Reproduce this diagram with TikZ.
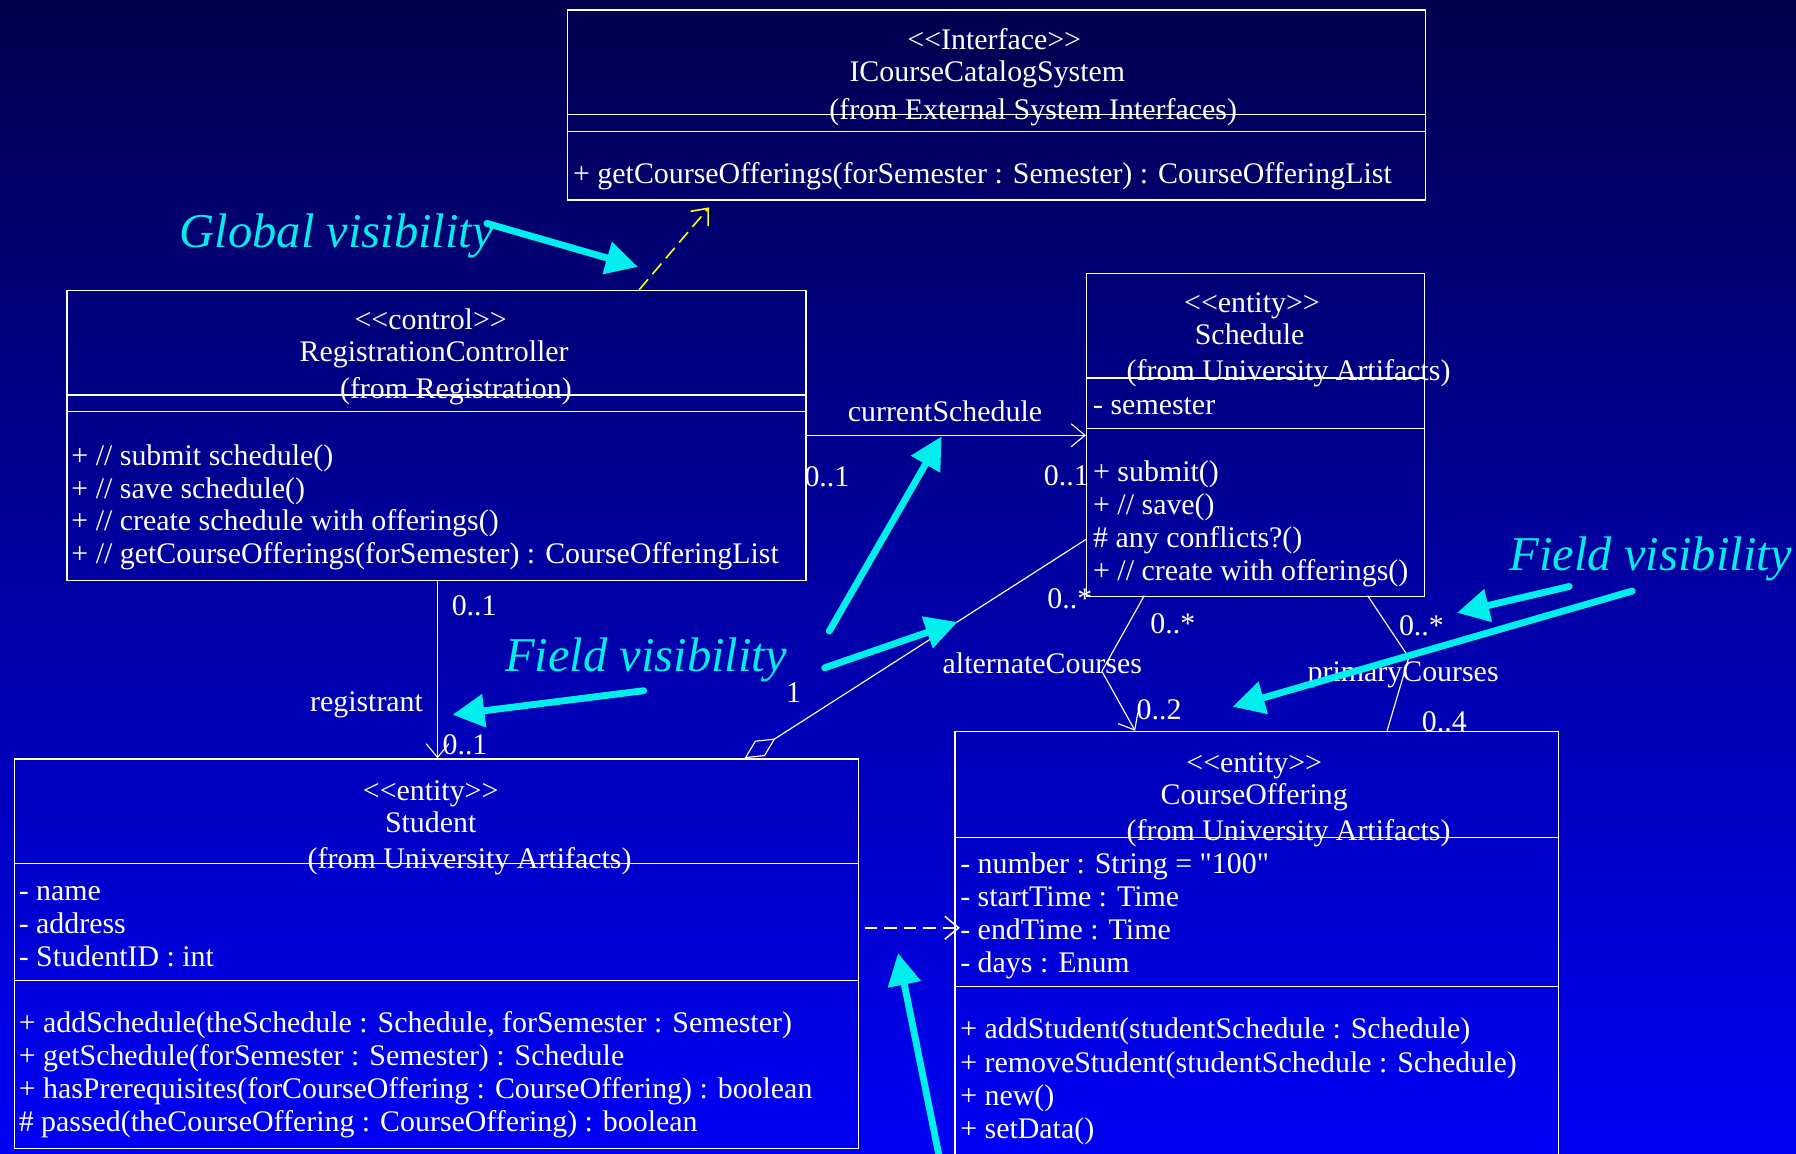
\documentclass[tikz,border=0pt]{standalone}
\usepackage{fontspec}
\setmainfont{Liberation Serif}[Ligatures=TeXOff]
\usetikzlibrary{arrows.meta}
\definecolor{bgtop}{RGB}{0,0,78}
\definecolor{bgbot}{RGB}{0,0,245}
\definecolor{notecyan}{RGB}{0,238,238}
\definecolor{depyellow}{RGB}{255,255,0}

\begin{document}
\begin{tikzpicture}[x=0.5pt,y=-0.5pt,
  umlbox/.style={draw=white, line width=0.6pt, inner sep=0pt, anchor=north west},
  sep/.style={draw=white, line width=0.6pt},
  txt/.style={text=white, font=\fontsize{13.05}{15}\selectfont, inner sep=0pt, anchor=base, yshift=-1pt},
  ltxt/.style={txt, anchor=base west},
  rtxt/.style={txt, anchor=base east},
  assoc/.style={draw=white, line width=0.5pt},
  openhead/.style={-{Straight Barb[length=6pt,width=10pt]}},
  notetxt/.style={text=notecyan, font=\fontsize{21.2}{24}\selectfont\itshape, inner sep=0pt, anchor=base},
  pointer/.style={draw=notecyan, line width=3pt, line cap=round,
    -{Triangle[length=14pt,width=14pt,fill=notecyan]}},
]
% background
\useasboundingbox (0,0) rectangle (1568,1007);
\shade[top color=bgtop, bottom color=bgbot] (0,0) rectangle (1568,1007);
\clip (0,0) rectangle (1568,1007);

% ---------- ICourseCatalogSystem ----------
\node[umlbox, minimum width=374.5pt, minimum height=83pt] (iface) at (495,8) {};
\draw[sep] (495,100) -- (1244,100);
\draw[sep] (495,115) -- (1244,115);
\node[txt] (ifSt) at (868,41) {<<Interface>>};
\node[txt] (ifNm) at (862,69) {ICourseCatalogSystem};
\node[txt] (ifPk) at (902,102) {(from External System Interfaces)};
\node[ltxt] (ifM1) at (500,158) {+ getCourseOfferings(forSemester : Semester) : CourseOfferingList};

% ---------- RegistrationController ----------
\node[umlbox, minimum width=322.5pt, minimum height=126.5pt] (rc) at (58,253) {};
\draw[sep] (58,345) -- (703,345);
\draw[sep] (58,359) -- (703,359);
\node[txt] (rcSt) at (376,286) {<<control>>};
\node[txt] (rcNm) at (379,314) {RegistrationController};
\node[txt] (rcPk) at (398,346) {(from Registration)};
\node[ltxt] (rcM1) at (62,404) {+ // submit schedule()};
\node[ltxt] (rcM2) at (62,433) {+ // save schedule()};
\node[ltxt] (rcM3) at (62,461) {+ // create schedule with offerings()};
\node[ltxt] (rcM4) at (62,490) {+ // getCourseOfferings(forSemester) : CourseOfferingList};

% ---------- Schedule ----------
\node[umlbox, minimum width=147.5pt, minimum height=141pt] (sch) at (948,238) {};
\draw[sep] (948,330) -- (1243,330);
\draw[sep] (948,374) -- (1243,374);
\node[txt] (schSt) at (1093,271) {<<entity>>};
\node[txt] (schNm) at (1091,299) {Schedule};
\node[txt] (schPk) at (1125,330) {(from University Artifacts)};
\node[ltxt] (schA1) at (954,360) {- semester};
\node[ltxt] (schM1) at (954,418) {+ submit()};
\node[ltxt] (schM2) at (954,447) {+ // save()};
\node[ltxt] (schM3) at (954,476) {\# any conflicts?()};
\node[ltxt] (schM4) at (954,505) {+ // create with offerings()};

% ---------- Student ----------
\node[umlbox, minimum width=368.5pt, minimum height=170pt] (stu) at (12,662) {};
\draw[sep] (12,754) -- (749,754);
\draw[sep] (12,856) -- (749,856);
\node[txt] (stuSt) at (376,697) {<<entity>>};
\node[txt] (stuNm) at (376,725) {Student};
\node[txt] (stuPk) at (410,756) {(from University Artifacts)};
\node[ltxt] (stuA1) at (16,784) {- name};
\node[ltxt] (stuA2) at (16,813) {- address};
\node[ltxt] (stuA3) at (16,842) {- StudentID : int};
\node[ltxt] (stuM1) at (16,899) {+ addSchedule(theSchedule : Schedule, forSemester : Semester)};
\node[ltxt] (stuM2) at (16,928) {+ getSchedule(forSemester : Semester) : Schedule};
\node[ltxt] (stuM3) at (16,957) {+ hasPrerequisites(forCourseOffering : CourseOffering) : boolean};
\node[ltxt] (stuM4) at (16,986) {\# passed(theCourseOffering : CourseOffering) : boolean};

% ---------- CourseOffering ----------
\node[umlbox, minimum width=263.5pt, minimum height=190pt] (co) at (833,638) {};
\draw[sep] (833,731) -- (1360,731);
\draw[sep] (833,861) -- (1360,861);
\node[txt] (coSt) at (1095,672) {<<entity>>};
\node[txt] (coNm) at (1095,700) {CourseOffering};
\node[txt] (coPk) at (1125,732) {(from University Artifacts)};
\node[ltxt] (coA1) at (838,761) {- number : String = "100"};
\node[ltxt] (coA2) at (838,789) {- startTime : Time};
\node[ltxt] (coA3) at (838,818) {- endTime : Time};
\node[ltxt] (coA4) at (838,847) {- days : Enum};
\node[ltxt] (coM1) at (838,905) {+ addStudent(studentSchedule : Schedule)};
\node[ltxt] (coM2) at (838,934) {+ removeStudent(studentSchedule : Schedule)};
\node[ltxt] (coM3) at (838,963) {+ new()};
\node[ltxt] (coM4) at (838,992) {+ setData()};

% ---------- connector end points ----------
\coordinate (rcDep) at (558,253);
\coordinate (ifDep) at (619,181);
\coordinate (rcCur) at (703,380);
\coordinate (schCur) at (948,380);
\coordinate (rcReg) at (382,506);
\coordinate (stuReg) at (382,662);
\coordinate (stuAgg) at (650,662);
\coordinate (schAgg) at (948,471);
\coordinate (schAlt) at (999,520);
\coordinate (altBend) at (962,586);
\coordinate (coAlt) at (991,638);
\coordinate (schPri) at (1194,520);
\coordinate (priBend) at (1230,574);
\coordinate (coPri) at (1211,638);
\coordinate (stuUse) at (755,810);
\coordinate (coUse) at (838,810);

% ---------- relationships ----------
\draw[depyellow, line width=0.7pt, dash pattern=on 6pt off 3pt, openhead] (rcDep) -- (ifDep);
\draw[assoc, openhead] (rcCur) -- (schCur);
\draw[assoc, openhead] (rcReg) -- (stuReg);
\draw[assoc, {Diamond[open,length=16pt,width=8pt]}-] (stuAgg) -- (schAgg);
\draw[assoc, openhead] (schAlt) -- (altBend) -- (coAlt);
\draw[assoc] (schPri) -- (priBend) -- (coPri);
\draw[assoc, line width=0.7pt, dash pattern=on 5.5pt off 3pt, openhead] (stuUse) -- (coUse);

% ---------- role names and multiplicities ----------
\node[txt] (lCur) at (825,366) {currentSchedule};
\node[ltxt] (mCur1) at (702,423) {0..1};
\node[rtxt] (mCur2) at (951,422) {0..1};
\node[ltxt] (mReg1) at (394,535) {0..1};
\node[txt] (lReg) at (320,619) {registrant};
\node[ltxt] (mReg2) at (386,657) {0..1};
\node[ltxt] (mAgg1) at (686,611) {1};
\node[ltxt] (mAgg2) at (914,529) {0..*};
\node[ltxt] (mAlt1) at (1004,551) {0..*};
\node[txt] (lAlt) at (910,586) {alternateCourses};
\node[ltxt] (mAlt2) at (992,626) {0..2};
\node[ltxt] (mPri1) at (1221,553) {0..*};
\node[txt] (lPri) at (1225,593) {primaryCourses};
\node[ltxt] (mPri2) at (1241,637) {0..4};

% ---------- visibility notes ----------
\node[notetxt] (nGlobal) at (294,216) {Global visibility};
\node[notetxt] (nField) at (564,586) {Field visibility};
\node[notetxt] (nField2) at (1441,498) {Field visibility};

\coordinate (gA) at (425,195);   \coordinate (gB) at (557,233);
\coordinate (fA) at (724,551);   \coordinate (fB) at (822,381);
\coordinate (fC) at (720,583);   \coordinate (fD) at (836,543);
\coordinate (fE) at (562,603);   \coordinate (fF) at (395,624);
\coordinate (rA) at (1370,512);  \coordinate (rB) at (1272,535);
\coordinate (rC) at (1425,516);  \coordinate (rD) at (1076,617);
\coordinate (bA) at (820,1010);  \coordinate (bB) at (784,832);

\draw[pointer] (gA) -- (gB);
\draw[pointer] (fA) -- (fB);
\draw[pointer] (fC) -- (fD);
\draw[pointer] (fE) -- (fF);
\draw[pointer] (rA) -- (rB);
\draw[pointer] (rC) -- (rD);
\draw[pointer] (bA) -- (bB);
\end{tikzpicture}
\end{document}
